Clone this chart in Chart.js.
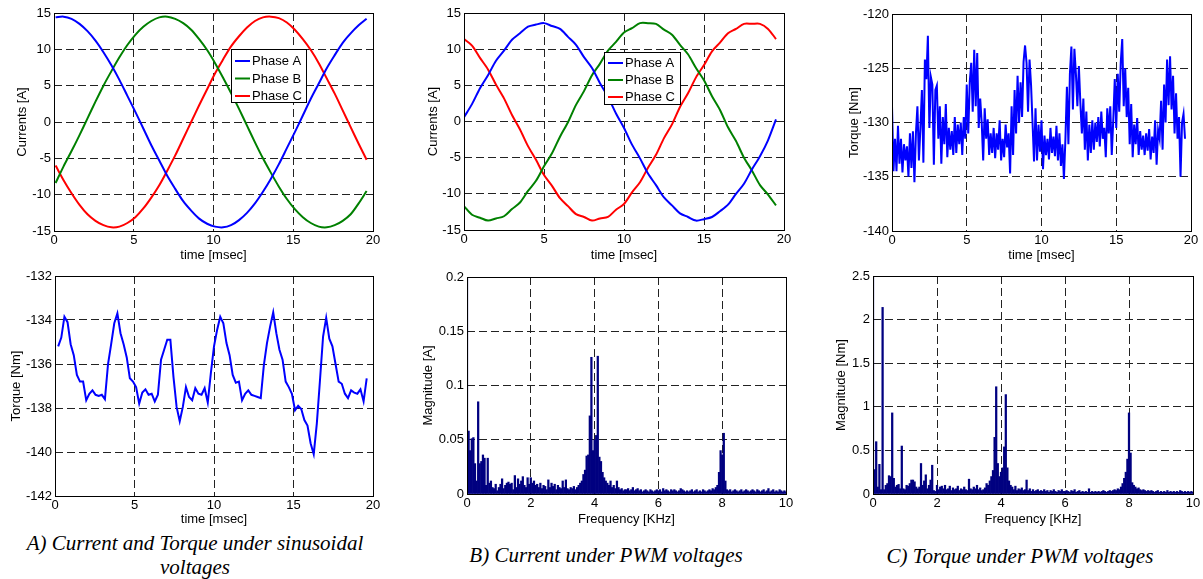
<!DOCTYPE html>
<html>
<head>
<meta charset="utf-8">
<script src="https://cdn.jsdelivr.net/npm/chart.js@4.4.1/dist/chart.umd.min.js"></script>
<style>
  body { margin: 0; background: #fff; width: 1203px; height: 579px; overflow: hidden; position: relative; }
  canvas { position: absolute; }
  .cap { position: absolute; text-align: center; font: italic 21px "Liberation Serif", "Times New Roman", serif; line-height: 24px; color: #000; white-space: nowrap; }
</style>
</head>
<body>
<canvas id="c1" width="400" height="268" style="left:0;top:0"></canvas>
<canvas id="c2" width="400" height="268" style="left:400px;top:0"></canvas>
<canvas id="c3" width="403" height="268" style="left:800px;top:0"></canvas>
<canvas id="c4" width="400" height="264" style="left:0;top:266px"></canvas>
<canvas id="c5" width="400" height="264" style="left:400px;top:266px"></canvas>
<canvas id="c6" width="403" height="264" style="left:800px;top:266px"></canvas>
<div class="cap" style="left:0;width:390px;top:531px">A) Current and Torque under sinusoidal<br>voltages</div>
<div class="cap" style="left:406px;width:400px;top:543px">B) Current under PWM voltages</div>
<div class="cap" style="left:820px;width:400px;top:544px">C) Torque under PWM voltages</div>
<script>
// --- sampling (start, step) ---
const sinCurStart = 0.1, sinCurStep = 0.5;
const pwmCurStart = 0, pwmCurStep = 0.5;
const sinTqStart = 0.2, sinTqStep = 0.196;
const pwmTqStart = 0, pwmTqStep = 0.1;
const freqStart = 0, freqStep = 0.05;

// A) sinusoidal supply: phase currents [A]
const sinPhaseA = [14.4, 14.5, 14.2, 13.5, 12.5, 11.2, 9.6, 7.8, 5.8, 3.6, 1.4, -0.9, -3.2, -5.3, -7.4, -9.2, -10.9, -12.2, -13.3, -14.0,
  -14.4, -14.5, -14.2, -13.5, -12.5, -11.2, -9.6, -7.8, -5.8, -3.6, -1.4, 0.9, 3.2, 5.3, 7.4, 9.2, 10.9, 12.2, 13.3, 14.2];
const sinPhaseB = [-8.4, -6.1, -4.0, -1.8, 0.5, 2.8, 5.0, 7.0, 8.9, 10.6, 12.0, 13.1, 13.9, 14.4, 14.5, 14.2, 13.6, 12.7, 11.4, 9.9,
  8.1, 6.1, 4.0, 1.8, -0.5, -2.8, -5.0, -7.0, -8.9, -10.6, -12.0, -13.1, -13.9, -14.4, -14.5, -14.2, -13.6, -12.7, -11.2, -9.5];
const sinPhaseC = [-6.0, -8.0, -9.8, -11.4, -12.7, -13.6, -14.2, -14.5, -14.4, -13.9, -13.1, -11.9, -10.4, -8.7, -6.7, -4.6, -2.3, 0.0, 2.3, 4.5,
  6.7, 8.6, 10.4, 11.8, 13.0, 13.9, 14.4, 14.5, 14.3, 13.7, 12.7, 11.4, 9.9, 8.1, 6.0, 3.9, 1.6, -0.7, -3.0, -5.2];

// A) sinusoidal supply: torque [Nm]
const sinTorque = [-135.2, -134.8, -133.85, -134.1, -135.1, -135.6, -136.5, -136.8, -136.8, -137.65,
  -137.35, -137.2, -137.4, -137.45, -137.4, -137.6, -136.0, -135.1, -134.15, -133.7,
  -134.6, -135.1, -135.7, -136.65, -136.8, -137.05, -137.8, -137.3, -137.15, -137.4,
  -137.35, -137.7, -137.4, -135.8, -135.35, -134.9, -134.9, -136.6, -137.95, -138.6,
  -137.95, -137.05, -137.5, -137.65, -137.1, -137.35, -137.4, -137.1, -137.75, -136.4,
  -135.2, -134.45, -133.85, -134.15, -135.05, -135.6, -136.5, -136.85, -136.8, -137.65,
  -137.35, -137.2, -137.4, -137.45, -137.5, -137.55, -136.05, -135.05, -134.3, -133.65,
  -134.6, -135.35, -135.8, -136.8, -137.05, -137.35, -138.1, -137.9, -138.05, -138.55,
  -138.8, -139.6, -140.1, -138.7, -136.75, -134.75, -133.9, -134.85, -135.2, -136.0,
  -136.8, -136.9, -137.35, -137.55, -137.2, -137.3, -137.35, -137.15, -137.7, -136.65];

// B) PWM supply: phase currents [A]
const pwmPhaseA = [0.6, 2.4, 4.6, 6.4, 8.4, 9.8, 11.3, 12.2, 13.1, 13.4, 13.6, 13.2, 12.8, 11.7, 10.6, 8.9, 7.4, 5.3, 3.4, 1.1,
  -0.9, -3.2, -5.1, -7.2, -8.8, -10.5, -11.6, -12.7, -13.2, -13.7, -13.5, -13.2, -12.4, -11.5, -10.0, -8.6, -6.6, -4.8, -2.6, 0.3];
const pwmPhaseB = [-11.7, -12.9, -13.3, -13.7, -13.4, -13.1, -12.1, -11.2, -9.6, -8.2, -6.2, -4.4, -2.1, -0.1, 2.3, 4.2, 6.4, 8.0, 9.8, 11.0,
  12.3, 12.9, 13.6, 13.6, 13.5, 12.7, 12.0, 10.6, 9.3, 7.4, 5.7, 3.5, 1.6, -0.8, -2.7, -5.0, -6.8, -8.8, -10.1, -11.6];
const pwmPhaseC = [11.4, 10.5, 8.8, 7.2, 5.1, 3.2, 0.9, -1.1, -3.4, -5.3, -7.4, -8.9, -10.6, -11.7, -12.8, -13.2, -13.7, -13.4, -13.2, -12.2,
  -11.4, -9.8, -8.4, -6.4, -4.6, -2.3, -0.4, 2.0, 3.9, 6.1, 7.8, 9.7, 10.9, 12.2, 12.8, 13.5, 13.5, 13.5, 12.8, 11.4];

// B) current spectrum [A], bins 0..10 kHz
const currentSpectrum = [
  0.2, 0.058, 0.04, 0.051, 0.052, 0.028, 0.012, 0.085, 0.028, 0.03, 0.036, 0.033, 0.008, 0.033, 0.01, 0.012, 0.006, 0.005, 0.009, 0.003,
  0.006, 0.009, 0.014, 0.005, 0.008, 0.01, 0.011, 0.009, 0.01, 0.004, 0.017, 0.006, 0.014, 0.009, 0.012, 0.016, 0.008, 0.006, 0.015, 0.009,
  0.015, 0.01, 0.012, 0.008, 0.009, 0.006, 0.01, 0.005, 0.008, 0.007, 0.004, 0.013, 0.006, 0.01, 0.007, 0.009, 0.004, 0.008, 0.006, 0.005,
  0.012, 0.006, 0.013, 0.005, 0.004, 0.006, 0.005, 0.007, 0.004, 0.006, 0.008, 0.01, 0.012, 0.018, 0.022, 0.035, 0.036, 0.072, 0.126, 0.04,
  0.05, 0.054, 0.127, 0.034, 0.03, 0.02, 0.015, 0.012, 0.01, 0.008, 0.012, 0.006, 0.008, 0.005, 0.012, 0.006, 0.004, 0.005, 0.003, 0.004,
  0.004, 0.005, 0.003, 0.004, 0.006, 0.003, 0.004, 0.005, 0.003, 0.004, 0.002, 0.003, 0.004, 0.003, 0.002, 0.004, 0.003, 0.002, 0.003, 0.004,
  0.003, 0.004, 0.002, 0.005, 0.003, 0.004, 0.003, 0.002, 0.004, 0.003, 0.004, 0.003, 0.002, 0.003, 0.005, 0.004, 0.003, 0.002, 0.003, 0.002,
  0.003, 0.004, 0.002, 0.003, 0.004, 0.002, 0.003, 0.002, 0.004, 0.003, 0.002, 0.003, 0.004, 0.003, 0.005, 0.004, 0.006, 0.008, 0.02, 0.04,
  0.036, 0.056, 0.012, 0.004, 0.003, 0.004, 0.002, 0.003, 0.004, 0.003, 0.002, 0.003, 0.004, 0.002, 0.003, 0.004, 0.003, 0.002, 0.003, 0.004,
  0.003, 0.002, 0.004, 0.003, 0.002, 0.003, 0.004, 0.002, 0.003, 0.005, 0.002, 0.003, 0.004, 0.002, 0.003, 0.002, 0.004, 0.003, 0.002, 0.003,
  0.002];

// C) PWM supply: torque [Nm]
const pwmTorque = [
  -128.5, -134.5, -131.5, -134.5, -130.3, -133.8, -131.5, -134.6, -132.0, -133.5,
  -132.2, -135.0, -131.0, -134.2, -130.8, -135.5, -131.0, -128.5, -133.5, -130.5,
  -127.0, -133.7, -124.2, -126.0, -122.0, -130.5, -125.8, -126.5, -133.9, -127.0,
  -126.6, -131.5, -128.5, -133.8, -129.5, -132.0, -128.3, -133.2, -130.5, -132.5,
  -130.8, -133.0, -129.5, -132.8, -130.2, -132.0, -130.0, -133.0, -129.5, -131.5,
  -126.5, -131.0, -126.3, -124.5, -129.0, -123.3, -128.5, -123.6, -130.5, -127.8,
  -130.0, -133.5, -128.7, -131.5, -129.7, -133.0, -131.0, -132.8, -130.5, -133.3,
  -131.0, -132.5, -129.8, -133.5, -131.5, -133.2, -130.2, -132.3, -131.0, -134.7,
  -128.5, -133.0, -127.0, -131.0, -125.7, -130.0, -126.3, -129.5, -124.4, -122.9,
  -124.5, -129.0, -124.2, -126.5, -130.0, -133.6, -128.7, -133.5, -130.2, -132.7,
  -129.8, -134.3, -131.2, -133.0, -131.5, -133.4, -130.5, -132.8, -131.3, -133.1,
  -130.3, -133.5, -131.0, -134.0, -132.0, -135.2, -131.5, -126.7, -132.0, -125.5,
  -123.0, -128.8, -123.2, -125.5, -128.5, -124.8, -128.2, -131.0, -127.8, -132.5,
  -129.0, -133.5, -130.2, -132.8, -129.8, -132.5, -130.0, -131.8, -129.5, -132.2,
  -129.0, -131.5, -130.5, -133.2, -128.7, -131.0, -128.5, -133.0, -129.8, -126.0,
  -130.5, -125.5, -129.0, -124.5, -122.3, -128.5, -125.0, -129.5, -126.8, -132.0,
  -128.3, -133.2, -130.2, -132.0, -129.6, -133.0, -130.8, -132.5, -131.2, -133.0,
  -131.0, -132.6, -130.6, -133.4, -131.3, -132.8, -129.8, -133.9, -130.7, -131.5,
  -128.0, -132.5, -126.5, -130.0, -124.2, -128.4, -123.9, -128.8, -125.7, -131.0,
  -127.3, -131.5, -129.5, -135.0, -130.0, -129.2, -131.5];

// C) torque spectrum [Nm], bins 0..10 kHz
const torqueSpectrum = [
  2.5, 0.28, 0.6, 0.08, 0.34, 0.05, 2.14, 0.05, 0.1, 0.12, 0.21, 0.2, 0.93, 0.18, 0.08, 0.1, 0.11, 0.06, 0.55, 0.06,
  0.05, 0.1, 0.09, 0.12, 0.16, 0.16, 0.14, 0.08, 0.06, 0.08, 0.35, 0.1, 0.15, 0.22, 0.06, 0.1, 0.16, 0.33, 0.04, 0.03,
  0.1, 0.05, 0.08, 0.09, 0.06, 0.1, 0.05, 0.06, 0.09, 0.04, 0.07, 0.05, 0.06, 0.09, 0.04, 0.06, 0.05, 0.08, 0.05, 0.04,
  0.17, 0.06, 0.05, 0.08, 0.06, 0.1, 0.05, 0.07, 0.04, 0.05, 0.07, 0.12, 0.1, 0.15, 0.2, 0.27, 0.65, 1.23, 0.35, 0.2,
  0.25, 0.3, 0.54, 1.14, 0.3, 0.15, 0.1, 0.08, 0.05, 0.09, 0.04, 0.06, 0.05, 0.07, 0.04, 0.05, 0.16, 0.04, 0.06, 0.03,
  0.05, 0.03, 0.04, 0.05, 0.03, 0.04, 0.03, 0.05, 0.03, 0.04, 0.02, 0.04, 0.03, 0.05, 0.03, 0.02, 0.04, 0.03, 0.05, 0.03,
  0.03, 0.04, 0.03, 0.02, 0.04, 0.03, 0.05, 0.02, 0.03, 0.04, 0.02, 0.03, 0.02, 0.03, 0.02, 0.06, 0.02, 0.03, 0.02, 0.03,
  0.02, 0.03, 0.02, 0.03, 0.04, 0.03, 0.02, 0.03, 0.04, 0.03, 0.04, 0.05, 0.04, 0.06, 0.05, 0.08, 0.12, 0.18, 0.25, 0.4,
  0.93, 0.47, 0.13, 0.1, 0.08, 0.06, 0.07, 0.05, 0.04, 0.05, 0.04, 0.03, 0.04, 0.03, 0.04, 0.03, 0.02, 0.03, 0.04, 0.02,
  0.03, 0.02, 0.03, 0.02, 0.04, 0.02, 0.03, 0.02, 0.03, 0.02, 0.03, 0.02, 0.04, 0.03, 0.02, 0.03, 0.02, 0.03, 0.02, 0.03,
  0.02];

const phaseLabels = ['Phase A', 'Phase B', 'Phase C'];
const phaseColors = ['#0000ff', '#008000', '#ff0000'];

const FONT = '"Liberation Sans", Arial, sans-serif';
Chart.defaults.font.family = FONT;
Chart.defaults.font.size = 13;
Chart.defaults.color = '#000';

const pts = (start, step, vals) => vals.map((v, i) => ({ x: +(start + i * step).toFixed(3), y: v }));

// black box round the plot area, like matlab "box on"
const frame = {
  id: 'frame',
  afterDraw(chart) {
    const { ctx, chartArea: a } = chart;
    ctx.save();
    ctx.strokeStyle = '#000';
    ctx.lineWidth = 1;
    ctx.strokeRect(Math.round(a.left) + 0.5, Math.round(a.top) + 0.5,
      Math.round(a.right - a.left), Math.round(a.bottom - a.top));
    ctx.restore();
  }
};

// legend box placed inside the axes
const boxLegend = {
  id: 'boxLegend',
  afterDraw(chart, args, o) {
    if (!o || !o.w) return;
    const ctx = chart.ctx;
    ctx.save();
    ctx.fillStyle = '#fff';
    ctx.fillRect(o.x, o.y, o.w, o.h);
    ctx.strokeStyle = '#000';
    ctx.lineWidth = 1;
    ctx.strokeRect(o.x + 0.5, o.y + 0.5, o.w, o.h);
    ctx.font = '13px ' + FONT;
    ctx.textBaseline = 'middle';
    chart.data.datasets.forEach((ds, i) => {
      const y = o.y + o.first + i * o.gap;
      ctx.strokeStyle = ds.borderColor;
      ctx.lineWidth = 2;
      ctx.beginPath();
      ctx.moveTo(o.x + 4, y);
      ctx.lineTo(o.x + 19, y);
      ctx.stroke();
      ctx.fillStyle = '#000';
      ctx.fillText(ds.label, o.x + 21, y + 0.5);
    });
    ctx.restore();
  }
};

const tickText = v => String(Math.round(v * 1e6) / 1e6);

function axis(c) {
  return {
    type: 'linear', min: c.min, max: c.max, offset: false,
    ticks: { stepSize: c.step, padding: c.tickPad, maxRotation: 0, autoSkip: false, callback: tickText,
      font: { family: FONT, size: 13 }, color: '#000' },
    grid: { color: '#222', lineWidth: 1, drawTicks: false, offset: false },
    border: { display: false, dash: [8, 4] },
    title: { display: true, text: c.title, color: '#000', font: { family: FONT, size: 13 },
      padding: { top: c.tpad, bottom: c.tpad } },
    afterFit(s) {
      if (s.isHorizontal()) { s.height = c.size; s.paddingLeft = 0; s.paddingRight = 0; }
      else { s.width = c.size; s.paddingTop = 0; s.paddingBottom = 0; }
    }
  };
}

function plot(id, c) {
  c.x.tickPad = 2;
  c.y.tickPad = 3;
  return new Chart(document.getElementById(id), {
    type: c.type || 'line',
    data: { datasets: c.datasets },
    options: {
      animation: false, responsive: false, devicePixelRatio: 1,
      layout: { padding: { top: c.padTop, right: c.padRight, left: 0, bottom: 0 } },
      elements: { point: { radius: 0 } },
      plugins: { legend: { display: false }, tooltip: { enabled: false }, boxLegend: c.legend || false },
      scales: { x: axis(c.x), y: axis(c.y) }
    },
    plugins: [frame, boxLegend]
  });
}

const lineSet = (label, color, data, tension) => ({ label, data, borderColor: color, borderWidth: 2, tension: tension || 0, fill: false });
const barSet = (data) => ({ data, backgroundColor: '#000080', borderWidth: 0, barPercentage: 1, categoryPercentage: 1 });

plot('c1', {
  padTop: 13, padRight: 27,
  datasets: [sinPhaseA, sinPhaseB, sinPhaseC].map((v, i) => lineSet(phaseLabels[i], phaseColors[i], pts(sinCurStart, sinCurStep, v), 0.3)),
  legend: { x: 231, y: 49, w: 75, h: 53, first: 12, gap: 17.5 },
  x: { min: 0, max: 20, step: 5, title: 'time [msec]', tpad: 5, size: 37 },
  y: { min: -15, max: 15, step: 5, title: 'Currents [A]', tpad: 15, size: 54 }
});

plot('c2', {
  padTop: 13, padRight: 16,
  datasets: [pwmPhaseA, pwmPhaseB, pwmPhaseC].map((v, i) => lineSet(phaseLabels[i], phaseColors[i], pts(pwmCurStart, pwmCurStep, v), 0.3)),
  legend: { x: 204, y: 52, w: 76, h: 52, first: 11, gap: 17 },
  x: { min: 0, max: 20, step: 5, title: 'time [msec]', tpad: 5, size: 38 },
  y: { min: -15, max: 15, step: 5, title: 'Currents [A]', tpad: 25.5, size: 64 }
});

plot('c3', {
  padTop: 14, padRight: 12,
  datasets: [lineSet('Torque', '#0000ff', pts(pwmTqStart, pwmTqStep, pwmTorque))],
  x: { min: 0, max: 20, step: 5, title: 'time [msec]', tpad: 5, size: 37 },
  y: { min: -140, max: -120, step: 5, title: 'Torque [Nm]', tpad: 47, size: 92 }
});

plot('c4', {
  padTop: 10, padRight: 27,
  datasets: [lineSet('Torque', '#0000ff', pts(sinTqStart, sinTqStep, sinTorque))],
  x: { min: 0, max: 20, step: 5, title: 'time [msec]', tpad: 3, size: 34 },
  y: { min: -142, max: -132, step: 2, title: 'Torque [Nm]', tpad: 9, size: 55 }
});

plot('c5', {
  type: 'bar', padTop: 11, padRight: 14,
  datasets: [barSet(pts(freqStart, freqStep, currentSpectrum))],
  x: { min: 0, max: 10, step: 2, title: 'Frequency [KHz]', tpad: 3, size: 36 },
  y: { min: 0, max: 0.2, step: 0.05, title: 'Magnitude [A]', tpad: 20.5, size: 67 }
});

plot('c6', {
  type: 'bar', padTop: 10, padRight: 10,
  datasets: [barSet(pts(freqStart, freqStep, torqueSpectrum))],
  x: { min: 0, max: 10, step: 2, title: 'Frequency [KHz]', tpad: 3, size: 36 },
  y: { min: 0, max: 2.5, step: 0.5, title: 'Magnitude [Nm]', tpad: 34, size: 73 }
});
</script>
</body>
</html>
